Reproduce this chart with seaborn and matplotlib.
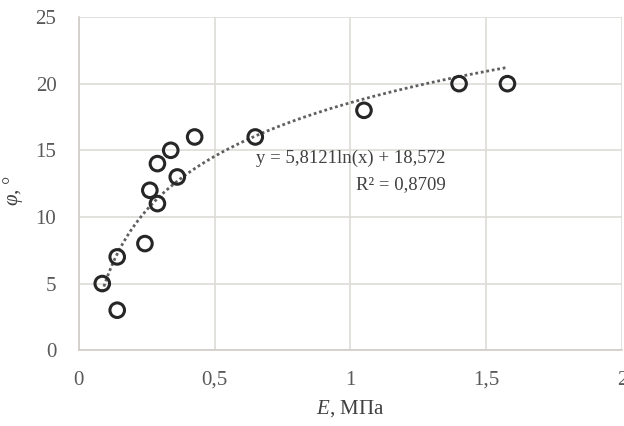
import numpy as np
import pandas as pd
import matplotlib
matplotlib.use("Agg")
import matplotlib.pyplot as plt
import seaborn as sns

# Data
e_mpa = [0.087, 0.142, 0.142, 0.244, 0.262, 0.29, 0.29, 0.339, 0.363, 0.427, 0.65, 1.05, 1.40, 1.578]
phi_deg = [5, 7, 3, 8, 12, 11, 14, 15, 13, 16, 16, 18, 20, 20]

# Logarithmic trendline as printed on the chart
trend_a = 5.8121
trend_b = 18.572
r_squared = 0.8709

x_ticks = [0, 0.5, 1, 1.5, 2]
x_tick_labels = ["0", "0,5", "1", "1,5", "2"]
y_ticks = [0, 5, 10, 15, 20, 25]

sns.set_theme(style="whitegrid")
plt.rcParams["font.family"] = ["Liberation Serif", "DejaVu Serif"]
plt.rcParams["mathtext.fontset"] = "custom"
plt.rcParams["mathtext.it"] = "Liberation Serif:italic"
plt.rcParams["mathtext.rm"] = "Liberation Serif"

df = pd.DataFrame({"E": e_mpa, "phi": phi_deg})
trend_x = np.linspace(min(e_mpa), max(e_mpa), 200)
trend = pd.DataFrame({"E": trend_x, "phi": trend_a * np.log(trend_x) + trend_b})

fig = plt.figure(figsize=(6.24, 4.26), dpi=100)
ax = fig.add_axes([0.126, 0.178, 0.871, 0.782])

sns.lineplot(data=trend, x="E", y="phi", ax=ax, color="#606060",
             linestyle=(0, (1, 1)), linewidth=2.0, zorder=2)
sns.scatterplot(data=df, x="E", y="phi", ax=ax, s=110, marker="o",
                facecolor="none", edgecolor="#262626", linewidth=2.2, zorder=3)

ax.set_xlim(0, 2)
ax.set_ylim(0, 25)
ax.set_xticks(x_ticks)
ax.set_xticklabels(x_tick_labels)
ax.set_yticks(y_ticks)

ax.grid(True, color="#dedbd8", linewidth=1.2)
for side in ["top", "right"]:
    ax.spines[side].set_visible(False)
for side in ["left", "bottom"]:
    ax.spines[side].set_color("#d0ccc8")
    ax.spines[side].set_linewidth(1.2)

ax.tick_params(axis="both", length=0, labelsize=15, labelcolor="#595959")
ax.tick_params(axis="x", pad=15)
ax.tick_params(axis="y", pad=16)

ax.set_xlabel(r"$\it{E}$, МПа", fontsize=15, color="#404040", labelpad=6)
ax.set_ylabel(r"$\it{\varphi}$, °", fontsize=15, color="#404040")
ax.yaxis.set_label_coords(-0.098, 0.48)

ax.text(1.35, 14.4, f"y = {trend_a:.4f}ln(x) + {trend_b:.3f}".replace(".", ","),
        ha="right", va="center", fontsize=13.5, color="#404040", zorder=4)
ax.text(1.35, 12.4, f"R² = {r_squared:.4f}".replace(".", ","),
        ha="right", va="center", fontsize=13.5, color="#404040", zorder=4)

fig.savefig("out.png", dpi=100, facecolor="white")
